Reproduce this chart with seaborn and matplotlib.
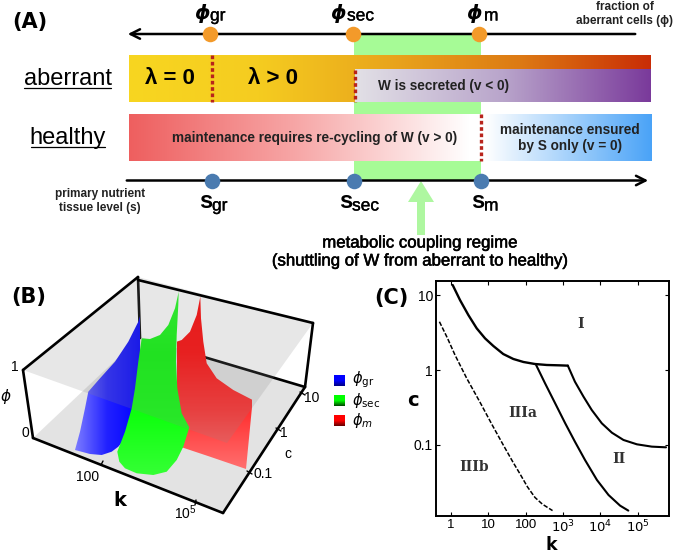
"""Three panel figure: regime schematic (A), phase surfaces (B), phase diagram (C)."""
import numpy as np
import pandas as pd
import matplotlib.pyplot as plt
import matplotlib.patheffects as pe
from matplotlib.patches import Polygon
import seaborn as sns

# ---- panel A: thresholds along the two axes (px)
phi_marks = [210, 353, 479]
phi_names = ["gr", "sec", "m"]
s_marks = [212, 354, 481]
s_names = ["gr", "sec", "m"]

# ---- panel B: traced outlines in px of the reference
blue_x = [147.7, 143.3, 138.3, 128.3, 115, 100, 88.3, 85, 80, 75, 90, 101.7, 111.7, 118.3, 128, 135, 142, 145, 141.7, 145]
blue_y = [283.3, 305, 321.7, 341.7, 361.7, 378.3, 391.7, 408.3, 431.7, 450, 454, 455, 451.7, 446.7, 435, 415, 375, 341.7, 325, 305]
green_x = [178.7, 175, 168.3, 160, 150, 141.7, 138.3, 135, 131.7, 125, 117.3, 119.3, 125, 136.7, 153.3, 166.7, 176.7, 183.3, 189.3, 181.7, 177.3, 176, 176.7, 178.3]
green_y = [291.7, 308.3, 325, 335, 339, 338.3, 361.7, 388.3, 408.3, 431.7, 451.7, 461.7, 468.3, 473.3, 475, 471.7, 460, 446.7, 427.3, 413.3, 388.3, 361.7, 335, 305]
red_x = [200.3, 196.7, 190, 181.7, 172, 172, 176, 184, 180, 210, 246, 252.7, 233.3, 216.7, 206.7, 203.3, 201]
red_y = [296.7, 315, 331.7, 340, 343.3, 368.3, 391.7, 427.3, 446.7, 456.7, 469, 400, 390, 378.3, 363.3, 341.7, 318.3]
floor_x = [33, 223, 305, 140]
floor_y = [438, 513, 387, 337]
lid_x = [23, 138, 313, 227]
lid_y = [370, 277, 323, 443]

# ---- panel C: region boundaries, log10(k) and log10(c)
upper_logk = [0.045, 0.241, 0.465, 0.688, 0.912, 1.135, 1.40, 1.67, 1.94, 2.25, 2.565, 2.92, 3.13]
upper_logc = [1.133, 0.933, 0.733, 0.556, 0.422, 0.32, 0.213, 0.147, 0.107, 0.08, 0.067, 0.062, 0.058]
right_logk = [3.13, 3.32, 3.55, 3.77, 4.04, 4.31, 4.62, 4.98, 5.38, 5.76]
right_logc = [0.058, -0.156, -0.356, -0.533, -0.711, -0.836, -0.933, -0.991, -1.022, -1.031]
middle_logk = [2.28, 2.52, 2.79, 3.06, 3.32, 3.59, 3.91, 4.22, 4.53, 4.75]
middle_logc = [0.067, -0.178, -0.444, -0.711, -0.956, -1.20, -1.467, -1.667, -1.809, -1.875]
dashed_logk = [-0.31, -0.10, 0.107, 0.42, 0.777, 1.10, 1.40, 1.65, 1.85, 2.05, 2.25, 2.45, 2.72]
dashed_logc = [0.644, 0.43, 0.20, -0.11, -0.43, -0.73, -1.00, -1.22, -1.387, -1.56, -1.70, -1.79, -1.875]
region_names = ["I", "II", "IIIa", "IIIb"]
region_logk = [3.47, 4.51, 1.92, 0.62]
region_logc = [0.61, -1.19, -0.58, -1.30]
k_ticks = [1, 10, 100, 1e3, 1e4, 1e5]
k_labels = ["1", "10", "100", "$10^3$", "$10^4$", "$10^5$"]
c_ticks = [0.1, 1, 10]
c_labels = ["0.1", "1", "10"]

sns.set_theme(style="white")
plt.rcParams["font.family"] = ["Liberation Sans", "DejaVu Sans"]
plt.rcParams["mathtext.fontset"] = "dejavusans"
plt.rcParams["text.color"] = "black"
plt.rcParams["axes.labelcolor"] = "black"

fig = plt.figure(figsize=(6.75, 5.52), dpi=100)
bg = fig.add_axes([0, 0, 1, 1])
bg.set_xlim(0, 675)
bg.set_ylim(552, 0)
bg.axis("off")


def gradient(ax, colors, x0, x1, y0, y1, clip=None, zorder=2, vertical=False):
    cmap = sns.blend_palette(colors, as_cmap=True)
    ramp = np.linspace(0, 1, 256)
    ramp = ramp.reshape(-1, 1) if vertical else ramp.reshape(1, -1)
    im = ax.imshow(ramp, cmap=cmap, extent=[x0, x1, y1, y0], aspect="auto", zorder=zorder, interpolation="bilinear")
    if clip is not None:
        patch = Polygon(clip, closed=True, transform=ax.transData)
        im.set_clip_path(patch)
    ax.set_xlim(0, 675)
    ax.set_ylim(552, 0)


# ============================================================
# Panel A
# ============================================================
bg.text(30, 22, "(A)", fontsize=15, fontweight="bold", family="DejaVu Sans", ha="center", va="center")

bg.fill_between([354, 481], 34, 181, color="#a6fb96", lw=0, zorder=1)

gradient(bg, ["#f8d620", "#f5cc20", "#e9a51c", "#dd7a14", "#c92d06"], 129, 651, 55, 102)
gradient(bg, ["#e2e0e6", "#b9a5cb", "#7a3a9b"], 355, 651, 69, 102, zorder=3)
gradient(bg, ["#ee5f5f", "#f7a8a8", "#ffffff"], 129, 470, 114, 161)
bg.fill_between([470, 490], 114, 161, color="white", lw=0, zorder=2)
gradient(bg, ["#ffffff", "#4aa3f7"], 485, 652, 114, 161)
for x, y0, y1 in [(211.5, 55, 102), (355, 70, 102), (480.5, 114, 161)]:
    bg.plot([x, x], [y0, y1], color="#b8241c", lw=2.4, ls=(0, (1.1, 0.8)), zorder=4)

bg.annotate("", xy=(125, 34), xytext=(638, 34), zorder=4,
            arrowprops=dict(arrowstyle="->", lw=1.8, color="black", mutation_scale=17))
bg.annotate("", xy=(651, 180.5), xytext=(124, 180.5), zorder=4,
            arrowprops=dict(arrowstyle="->", lw=1.8, color="black", mutation_scale=17))
sns.scatterplot(x=phi_marks, y=[34] * 3, ax=bg, color="#f39a2a", s=125, linewidth=0, zorder=5, legend=False)
sns.scatterplot(x=s_marks, y=[180.5] * 3, ax=bg, color="#4a7bb0", s=125, linewidth=0, zorder=5, legend=False)

thin = [pe.withStroke(linewidth=0.25, foreground="black")]
for x, name, sub_x in zip([202, 338, 474], phi_names, [210, 347, 484]):
    bg.text(x, 13, "\u03d5", fontsize=14, fontweight="bold", style="italic", family="DejaVu Sans", ha="center", va="center")
    bg.text(sub_x, 16, name, fontsize=12.5, ha="left", va="center", path_effects=thin)
for x, name, sub_x in zip([206, 346, 478], s_names, [212, 352, 484]):
    bg.text(x, 202, "s", fontsize=17, fontweight="bold", ha="center", va="center")
    bg.text(sub_x, 206, name, fontsize=12.5, ha="left", va="center", path_effects=thin)

bg.text(68, 79, "aberrant", fontsize=17, ha="center", va="center")
bg.plot([24, 111], [88, 88], color="black", lw=0.9)
bg.text(68, 138, "healthy", fontsize=17, ha="center", va="center")
bg.plot([31, 105], [147, 147], color="black", lw=0.9)

bg.text(170, 79, "\u03bb = 0", fontsize=16, fontweight="bold", ha="center", va="center", zorder=6)
bg.text(273, 79, "\u03bb > 0", fontsize=16, fontweight="bold", ha="center", va="center", zorder=6)
bg.text(443, 86, "W is secreted (v < 0)", fontsize=9.8, fontweight="bold", color="#222222", ha="center", va="center", zorder=6)
bg.text(315, 138, "maintenance requires re-cycling of W (v > 0)", fontsize=9.8, fontweight="bold", color="#222222", ha="center", va="center", zorder=6)
bg.text(570, 138, "maintenance ensured\nby S only (v = 0)", fontsize=9.8, fontweight="bold", color="#222222", ha="center", va="center", linespacing=1.25, zorder=6)
bg.text(625, 14, "fraction of\naberrant cells (\u03d5)", fontsize=8.5, fontweight="bold", color="#222222", ha="center", va="center", linespacing=1.3)
bg.text(100, 201, "primary nutrient\ntissue level (s)", fontsize=8.5, fontweight="bold", color="#222222", ha="center", va="center", linespacing=1.3)

bg.add_patch(Polygon([[421, 181], [434, 202], [425, 202], [425, 235], [417, 235], [417, 202], [408, 202]],
                     closed=True, color="#aef7a0", lw=0, zorder=3))
stroke = [pe.withStroke(linewidth=0.4, foreground="black")]
bg.text(420, 243, "metabolic coupling regime", fontsize=12.1, ha="center", va="center", path_effects=stroke)
bg.text(420, 261, "(shuttling of W from aberrant to healthy)", fontsize=12.1, ha="center", va="center", path_effects=stroke)

# ============================================================
# Panel B
# ============================================================
bg.text(29, 297, "(B)", fontsize=15, fontweight="bold", family="DejaVu Sans", ha="center", va="center")

bg.add_patch(Polygon(np.column_stack([floor_x, floor_y]), closed=True, color="#dddddd", alpha=0.8, lw=0, zorder=2))

# back edges of the box sit behind the surfaces
for xs, ys in [([204, 305], [357, 387]), ([138, 140], [277, 338])]:
    bg.plot(xs, ys, color="black", lw=1.9, solid_capstyle="round", zorder=2.5)

gradient(bg, ["#7c7cff", "#2020ff", "#0000ff"], 75, 140, 280, 460, clip=np.column_stack([blue_x, blue_y]), zorder=3)
gradient(bg, ["#ff0000", "#ff0808", "#ff3030", "#ff7070"], 177, 252, 295, 470, clip=np.column_stack([red_x, red_y]), zorder=3, vertical=True)
gradient(bg, ["#20ff20", "#08f808", "#10ff10", "#38ff38"], 117, 190, 290, 480, clip=np.column_stack([green_x, green_y]), zorder=4, vertical=True)
bg.add_patch(Polygon(np.column_stack([lid_x, lid_y]), closed=True, color="#888888", alpha=0.2, lw=0, zorder=5))

box_edges = [
    ([23, 138], [370, 277]), ([138, 313], [280, 323]), ([313, 305], [323, 387]),
    ([23, 33], [370, 438]), ([33, 223], [438, 513]), ([223, 305], [513, 387]),
]
for xs, ys in box_edges:
    bg.plot(xs, ys, color="black", lw=1.9, solid_capstyle="round", zorder=6)
for xs, ys in [([103, 101], [461, 465]), ([196, 195], [500, 505]), ([247, 252], [471, 474]),
               ([276, 281], [428, 431]), ([300, 305], [392, 395])]:
    bg.plot(xs, ys, color="black", lw=1, zorder=6)

bg.text(15, 367, "1", fontsize=10, ha="center", va="center")
bg.text(25, 433, "0", fontsize=10, ha="center", va="center")
bg.text(6, 397, "\u03d5", fontsize=11, style="italic", ha="center", va="center", family="DejaVu Sans")
bg.text(88, 477, "100", fontsize=10, ha="center", va="center")
bg.text(120, 501, "k", fontsize=14, fontweight="bold", family="DejaVu Sans", ha="center", va="center")
bg.text(185, 513, "$\\mathregular{10^5}$", fontsize=10, ha="center", va="center")
bg.text(263, 474, "0.1", fontsize=10, ha="center", va="center")
bg.text(288, 454, "c", fontsize=10, ha="center", va="center")
bg.text(284, 433, "1", fontsize=10, ha="center", va="center")
bg.text(312, 398, "10", fontsize=10, ha="center", va="center")

for y, top, bottom, label in [(375, "#0000ff", "#000080", "$\\phi_{\\mathrm{gr}}$"),
                              (395, "#00ff00", "#004000", "$\\phi_{\\mathrm{sec}}$"),
                              (415, "#ff0000", "#600000", "$\\phi_{m}$")]:
    gradient(bg, [top, top, bottom], 334, 345, y, y + 11, vertical=True)
    bg.text(352, y + 5, label, fontsize=10.5, ha="left", va="center")

# ============================================================
# Panel C
# ============================================================
bg.text(391, 298, "(C)", fontsize=15, fontweight="bold", family="DejaVu Sans", ha="center", va="center")

ax = fig.add_axes([435.7 / 675, 1 - 516 / 552, (669 - 435.7) / 675, (516 - 281) / 552])
ax.patch.set_alpha(0)
for logk, logc, style, width in [
    (upper_logk, upper_logc, "-", 1.7),
    (right_logk, right_logc, "-", 1.5),
    (middle_logk, middle_logc, "-", 1.5),
    (dashed_logk, dashed_logc, (0, (3, 1.2)), 1.1),
]:
    frame = pd.DataFrame({"k": 10.0 ** np.array(logk), "c": 10.0 ** np.array(logc)})
    sns.lineplot(data=frame, x="k", y="c", ax=ax, color="black", lw=width, linestyle=style, sort=False, estimator=None)

ax.set_xscale("log")
ax.set_yscale("log")
ax.set_xlim(10 ** -0.41, 10 ** 5.84)
ax.set_ylim(10 ** -1.947, 10 ** 1.187)
ax.set_xticks(k_ticks)
ax.set_xticklabels(k_labels, fontsize=9.5)
ax.set_yticks(c_ticks)
ax.set_yticklabels(c_labels, fontsize=10)
ax.minorticks_off()
ax.tick_params(which="major", direction="in", length=3, width=0.8, top=True, right=True, bottom=True, left=True, pad=2, colors="black")
ax.set_xlabel("k", fontsize=12.5, fontweight="bold", family="DejaVu Sans")
ax.set_ylabel("c", fontsize=14, fontweight="bold", family="DejaVu Sans", rotation=0, va="center", ha="center")
ax.xaxis.set_label_coords((551 - 435.7) / 233.3, -(549.5 - 516) / 235, transform=ax.transAxes)
ax.xaxis.label.set_va("baseline")
ax.yaxis.set_label_coords((413 - 435.7) / 233.3, (516 - 401) / 235)
for spine in ax.spines.values():
    spine.set_color("black")
    spine.set_linewidth(1.4)
for name, lk, lc in zip(region_names, region_logk, region_logc):
    ax.text(10 ** lk, 10 ** lc, name, fontsize=10, fontweight="bold", family="DejaVu Serif", color="#333333", ha="center", va="center")

fig.savefig("out.png", dpi=100)
